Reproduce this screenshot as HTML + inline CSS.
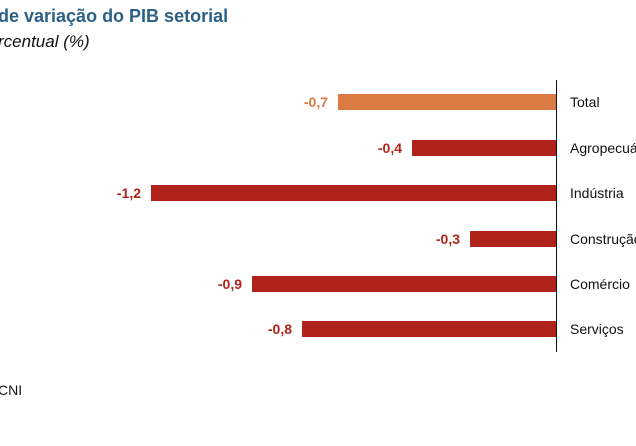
<!DOCTYPE html>
<html><head><style>
body{margin:0;width:636px;height:446px;background:#fff;position:relative;overflow:hidden;font-family:"Liberation Sans",sans-serif}
.a{position:absolute;white-space:nowrap}
.bar{position:absolute;height:16px}
.v{position:absolute;font-weight:bold;font-size:14px;text-align:right;width:60px}
.l{position:absolute;left:570px;font-size:14px;color:#111;white-space:nowrap}
</style></head><body>
<div class="a" style="left:-2px;top:6px;font-size:18px;font-weight:bold;color:#2c6185">de variação do PIB setorial</div>
<div class="a" style="left:-2px;top:32px;font-size:17px;font-style:italic;color:#111">rcentual (%)</div>
<div class="a" style="left:-2px;top:382px;font-size:14px;color:#111">CNI</div>
<div style="position:absolute;left:556px;top:80px;width:1px;height:272px;background:#111"></div>

<div class="bar" style="left:338px;width:218px;top:94px;background:#db7a42"></div>
<div class="v" style="left:268px;top:94px;color:#db7a42">-0,7</div>
<div class="l" style="top:94px">Total</div>

<div class="bar" style="left:412px;width:144px;top:140px;background:#b0231a"></div>
<div class="v" style="left:342px;top:140px;color:#b0231a">-0,4</div>
<div class="l" style="top:140px">Agropecuária</div>

<div class="bar" style="left:151px;width:405px;top:185px;background:#b0231a"></div>
<div class="v" style="left:81px;top:185px;color:#b0231a">-1,2</div>
<div class="l" style="top:185px">Indústria</div>

<div class="bar" style="left:470px;width:86px;top:231px;background:#b0231a"></div>
<div class="v" style="left:400px;top:231px;color:#b0231a">-0,3</div>
<div class="l" style="top:231px">Construção</div>

<div class="bar" style="left:252px;width:304px;top:276px;background:#b0231a"></div>
<div class="v" style="left:182px;top:276px;color:#b0231a">-0,9</div>
<div class="l" style="top:276px">Comércio</div>

<div class="bar" style="left:302px;width:254px;top:321px;background:#b0231a"></div>
<div class="v" style="left:232px;top:321px;color:#b0231a">-0,8</div>
<div class="l" style="top:321px">Serviços</div>
</body></html>
